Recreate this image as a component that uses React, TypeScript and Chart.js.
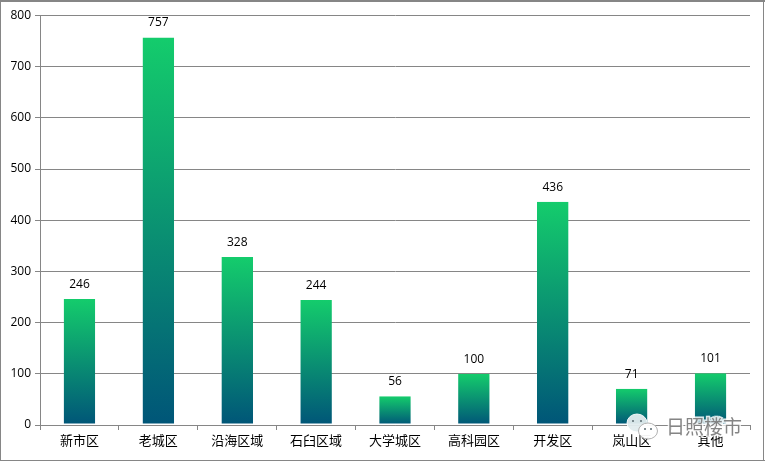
import React, { useEffect, useRef } from "react";
import { Chart, registerables } from "chart.js";

Chart.register(...registerables);

const categories = ["新市区", "老城区", "沿海区域", "石臼区域", "大学城区", "高科园区", "开发区", "岚山区", "其他"];
const listings = [246, 757, 328, 244, 56, 100, 436, 71, 101];
const yTicks = [0, 100, 200, 300, 400, 500, 600, 700, 800];
const watermarkText = "日照楼市";

const GRID = "#868686";
const NUM_FAMILY = "'Open Sans'";

const decorPlugin = {
  id: "decor",
  beforeDraw(chart: any) {
    const { ctx, width, height } = chart;
    ctx.save();
    ctx.fillStyle = "#fff";
    ctx.fillRect(0, 0, width, height);
    ctx.fillStyle = GRID;
    ctx.fillRect(0, 0, width, 2);
    ctx.fillRect(0, 0, 1, height);
    ctx.fillRect(0, height - 1, width, 1);
    ctx.fillRect(width - 2, 0, 1, height);
    ctx.restore();
  },
  afterDatasetsDraw(chart: any) {
    const { ctx, scales } = chart;
    ctx.save();
    ctx.font = `12px ${NUM_FAMILY}`;
    ctx.fillStyle = "#000";
    ctx.textAlign = "center";
    ctx.textBaseline = "middle";
    listings.forEach((v, i) => {
      ctx.fillText(String(v), scales.x.getPixelForValue(i), scales.y.getPixelForValue(v) - 14.5);
    });
    ctx.restore();
  },
  afterDraw(chart: any) {
    const { ctx } = chart;
    ctx.save();
    ctx.fillStyle = "rgba(225,236,238,0.95)";
    ctx.strokeStyle = "rgba(255,255,255,0.9)";
    ctx.lineWidth = 1;
    ctx.beginPath();
    ctx.ellipse(637, 423, 10, 9, 0, 0, Math.PI * 2);
    ctx.fill();
    ctx.stroke();
    ctx.beginPath();
    ctx.ellipse(648, 431, 9.5, 8, 0, 0, Math.PI * 2);
    ctx.fillStyle = "rgba(255,255,255,0.95)";
    ctx.fill();
    ctx.strokeStyle = "rgba(170,170,170,0.9)";
    ctx.stroke();
    ctx.fillStyle = "#5a6a70";
    [[633, 421], [641, 421], [645, 429], [651, 429]].forEach(([x, y]) => {
      ctx.beginPath();
      ctx.arc(x, y, 1, 0, Math.PI * 2);
      ctx.fill();
    });
    ctx.font = "19px 'Noto Sans CJK SC'";
    ctx.textAlign = "left";
    ctx.textBaseline = "middle";
    ctx.lineWidth = 3;
    ctx.strokeStyle = "rgba(255,255,255,0.85)";
    ctx.strokeText(watermarkText, 666, 427);
    ctx.fillStyle = "rgba(120,120,120,0.9)";
    ctx.fillText(watermarkText, 666, 427);
    ctx.restore();
  },
};

export default function App() {
  const ref = useRef<HTMLCanvasElement>(null);
  useEffect(() => {
    document.body.style.margin = "0";
    const chart = new Chart(ref.current as HTMLCanvasElement, {
      type: "bar",
      data: {
        labels: categories,
        datasets: [
          {
            data: listings,
            categoryPercentage: 1,
            barPercentage: 0.4,
            borderWidth: { bottom: 1, top: 0, left: 0, right: 0 },
            borderColor: "rgba(0,0,0,0)",
            borderSkipped: false,
            backgroundColor: (c: any) => {
              const { chart: ch, parsed } = c;
              const y = ch.scales && ch.scales.y;
              if (!parsed || !y) return "#14CC6C";
              const top = y.getPixelForValue(parsed.y);
              const bottom = y.getPixelForValue(0);
              if (!Number.isFinite(top) || !Number.isFinite(bottom)) return "#14CC6C";
              const g = ch.ctx.createLinearGradient(0, top, 0, bottom);
              g.addColorStop(0, "#14CC6C");
              g.addColorStop(1, "#005578");
              return g;
            },
          } as any,
        ],
      },
      options: {
        responsive: false,
        animation: false,
        layout: { padding: { left: 0, right: 15, top: 15.5, bottom: 0 } },
        plugins: { legend: { display: false }, tooltip: { enabled: false } },
        scales: {
          x: {
            offset: true,
            afterFit: (s: any) => {
              s.height = 36;
            },
            grid: { drawOnChartArea: false, drawTicks: true, tickLength: 5, color: GRID, offset: true },
            border: { color: GRID, width: 1 },
            ticks: { color: "#000", font: { family: "'Noto Sans CJK SC'", size: 13 }, padding: 2, maxRotation: 0, autoSkip: false },
          },
          y: {
            min: 0,
            max: 800,
            afterFit: (s: any) => {
              s.width = 40;
            },
            afterBuildTicks: (s: any) => {
              s.ticks = yTicks.map((value) => ({ value }));
            },
            grid: { color: GRID, tickLength: 5, lineWidth: 1 },
            border: { color: GRID, width: 1 },
            ticks: { color: "#000", font: { family: NUM_FAMILY, size: 12 }, padding: 4 },
          },
        },
      },
      plugins: [decorPlugin],
    } as any);
    return () => chart.destroy();
  }, []);
  return <canvas ref={ref} width={765} height={461} style={{ display: "block" }} />;
}
